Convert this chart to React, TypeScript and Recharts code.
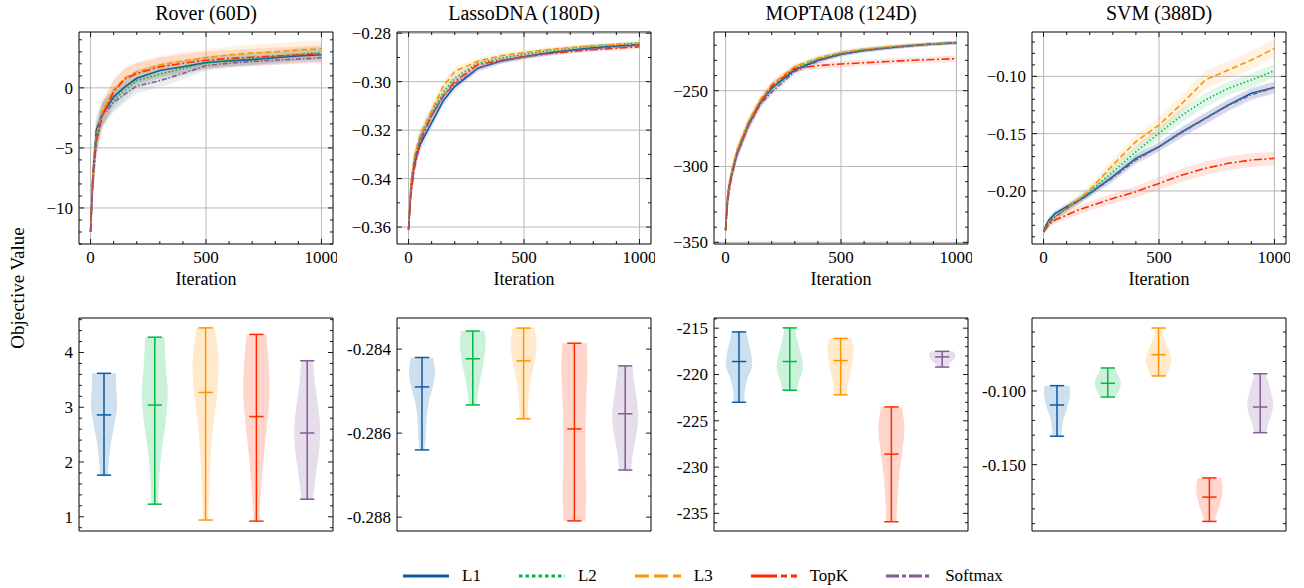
import React from "react";
import {
  ComposedChart,
  BarChart,
  Bar,
  Area,
  Line,
  XAxis,
  YAxis,
  ReferenceLine,
  ReferenceArea,
} from "recharts";

const FONT = '"Liberation Serif", "Times New Roman", serif';

const METHODS = ["L1", "L2", "L3", "TopK", "Softmax"];
const COLORS = ["#0C5DA5", "#00B945", "#FF9500", "#FF2C00", "#845B97"];
const DASHES = [undefined, "1.5 2.2", "6 3", "8 2.5 2 2.5", "5 2 1.5 2"];
const LEGEND_DASHES = [undefined, "3.5 3", "14 5", "26 4 6 4", "13 3 4 3"];

// iteration grid for the convergence curves
const ITERS = [0, 10, 25, 50, 100, 150, 200, 300, 400, 500, 600, 700, 800, 900, 1000];
const ITER_TICKS = [0, 100, 200, 300, 400, 500, 600, 700, 800, 900, 1000];
const ITER_MAJORS = [0, 500, 1000];

// Rover (60D): mean best objective per method (L1, L2, L3, TopK, Softmax)
const ROVER_MEAN = [
  [-12, -7.2, -3.5, -2.2, -0.75, 0.1, 0.8, 1.45, 1.75, 2.1, 2.25, 2.35, 2.5, 2.65, 2.75],
  [-12, -7.6, -4.3, -2.2, -1.0, -0.2, 0.6, 1.15, 1.6, 2.1, 2.3, 2.45, 2.6, 2.8, 2.95],
  [-12, -7.0, -4.0, -2.0, -0.2, 0.85, 1.35, 1.9, 2.25, 2.5, 2.75, 2.9, 3.0, 3.15, 3.25],
  [-12, -7.5, -4.5, -2.4, -0.3, 0.75, 1.2, 1.75, 2.05, 2.3, 2.45, 2.55, 2.65, 2.75, 2.85],
  [-12, -8.0, -4.4, -2.3, -1.2, -0.5, 0.15, 0.6, 1.2, 1.85, 2.05, 2.2, 2.3, 2.4, 2.5],
];
const ROVER_SD = [
  [0.4, 1.4, 1.2, 1.0, 0.8, 0.7, 0.65, 0.6, 0.55, 0.5, 0.5, 0.45, 0.45, 0.45, 0.45],
  [0.4, 1.5, 1.3, 1.0, 0.9, 0.8, 0.7, 0.65, 0.6, 0.55, 0.5, 0.5, 0.5, 0.5, 0.5],
  [0.4, 1.5, 1.3, 1.1, 0.95, 0.85, 0.8, 0.75, 0.7, 0.7, 0.7, 0.7, 0.7, 0.7, 0.7],
  [0.4, 1.5, 1.3, 1.1, 0.95, 0.9, 0.85, 0.8, 0.75, 0.7, 0.7, 0.7, 0.7, 0.7, 0.7],
  [0.4, 1.4, 1.2, 1.0, 0.8, 0.7, 0.6, 0.55, 0.5, 0.45, 0.4, 0.4, 0.4, 0.4, 0.4],
];

// LassoDNA (180D)
const LASSO_MEAN = [
  [-0.361, -0.345, -0.334, -0.326, -0.317, -0.308, -0.302, -0.2945, -0.2915, -0.2897, -0.2882, -0.287, -0.286, -0.2853, -0.2847],
  [-0.361, -0.343, -0.332, -0.323, -0.313, -0.3045, -0.2985, -0.2925, -0.2902, -0.2887, -0.2873, -0.2862, -0.2852, -0.2846, -0.284],
  [-0.361, -0.342, -0.331, -0.322, -0.312, -0.302, -0.2958, -0.2915, -0.2893, -0.288, -0.2868, -0.2859, -0.2852, -0.2846, -0.2842],
  [-0.361, -0.347, -0.336, -0.325, -0.314, -0.306, -0.3, -0.293, -0.2912, -0.2897, -0.2885, -0.2876, -0.2868, -0.2862, -0.2856],
  [-0.361, -0.344, -0.333, -0.324, -0.314, -0.306, -0.301, -0.2945, -0.2915, -0.2898, -0.2884, -0.2873, -0.2864, -0.2857, -0.285],
];
const LASSO_SD = [
  [0.003, 0.004, 0.003, 0.003, 0.0025, 0.002, 0.0018, 0.0013, 0.0011, 0.001, 0.0009, 0.0008, 0.0008, 0.0007, 0.0007],
  [0.003, 0.004, 0.003, 0.003, 0.0025, 0.002, 0.0018, 0.0013, 0.0011, 0.001, 0.0009, 0.0008, 0.0008, 0.0007, 0.0007],
  [0.003, 0.004, 0.0035, 0.003, 0.0028, 0.0022, 0.0018, 0.0013, 0.0011, 0.001, 0.0009, 0.0008, 0.0008, 0.0007, 0.0007],
  [0.003, 0.004, 0.0035, 0.003, 0.0025, 0.002, 0.0018, 0.0014, 0.0012, 0.0011, 0.001, 0.001, 0.0009, 0.0009, 0.0009],
  [0.003, 0.004, 0.003, 0.003, 0.0025, 0.002, 0.0018, 0.0013, 0.0011, 0.001, 0.0009, 0.0008, 0.0008, 0.0007, 0.0007],
];

// MOPTA08 (124D)
const MOPTA_MEAN = [
  [-342, -318, -306, -291, -272, -258, -248.5, -236.3, -230, -226, -223.5, -221.8, -220.4, -219.2, -218.5],
  [-342, -318, -306, -291, -272, -258, -248.5, -235, -229, -225.3, -223, -221.5, -220.2, -219.2, -218.5],
  [-342, -317, -305, -289, -270, -256, -246, -234, -228.6, -224.7, -222.6, -221.2, -220, -219, -218.4],
  [-342, -322, -307, -291, -272, -258, -247, -235.3, -233.5, -232.4, -231.6, -230.8, -230, -229.4, -228.9],
  [-342, -318, -306, -292, -273, -259, -251, -237.4, -230.5, -226, -223.5, -221.8, -220.4, -219.2, -218.3],
];
const MOPTA_SD = [
  [4, 6, 5, 4, 3.5, 3, 2.5, 2, 1.8, 1.6, 1.5, 1.4, 1.3, 1.2, 1.2],
  [4, 6, 5, 4, 3.5, 3, 2.5, 2, 1.8, 1.6, 1.5, 1.4, 1.3, 1.2, 1.2],
  [4, 6, 5, 4, 3.5, 3, 2.5, 2, 1.8, 1.6, 1.5, 1.4, 1.3, 1.2, 1.2],
  [4, 6, 5, 4, 3.5, 3, 2.8, 2.4, 2.2, 2.1, 2, 2, 2, 2, 2],
  [4, 6, 5, 4, 3.5, 3, 2.5, 2, 1.8, 1.6, 1.5, 1.4, 1.3, 1.2, 1.2],
];

// SVM (388D)
const SVM_MEAN = [
  [-0.2356, -0.23, -0.225, -0.2196, -0.2138, -0.2085, -0.2021, -0.1876, -0.1716, -0.1614, -0.1483, -0.1367, -0.125, -0.1148, -0.1096],
  [-0.2356, -0.232, -0.227, -0.2225, -0.2153, -0.2085, -0.2006, -0.1832, -0.1658, -0.1497, -0.1338, -0.1207, -0.1105, -0.1032, -0.0951],
  [-0.2356, -0.232, -0.227, -0.2225, -0.215, -0.2075, -0.1992, -0.1774, -0.157, -0.1425, -0.1236, -0.1032, -0.0945, -0.0858, -0.0756],
  [-0.2356, -0.233, -0.229, -0.2254, -0.221, -0.2167, -0.2132, -0.2065, -0.2007, -0.1934, -0.1861, -0.1803, -0.1759, -0.173, -0.1716],
  [-0.2356, -0.232, -0.2275, -0.2225, -0.2155, -0.209, -0.2025, -0.1885, -0.173, -0.1615, -0.149, -0.137, -0.1255, -0.116, -0.11],
];
const SVM_SD = [
  [0.002, 0.003, 0.003, 0.003, 0.003, 0.003, 0.003, 0.004, 0.004, 0.004, 0.0045, 0.005, 0.005, 0.005, 0.005],
  [0.002, 0.003, 0.003, 0.003, 0.003, 0.0035, 0.004, 0.0045, 0.005, 0.0055, 0.006, 0.006, 0.006, 0.006, 0.006],
  [0.002, 0.003, 0.003, 0.003, 0.0035, 0.004, 0.0045, 0.005, 0.006, 0.007, 0.0075, 0.008, 0.008, 0.008, 0.008],
  [0.002, 0.003, 0.003, 0.003, 0.0035, 0.004, 0.004, 0.0045, 0.005, 0.0055, 0.006, 0.006, 0.006, 0.006, 0.006],
  [0.002, 0.003, 0.003, 0.003, 0.003, 0.003, 0.003, 0.004, 0.004, 0.004, 0.0045, 0.005, 0.005, 0.005, 0.005],
];

// final-value distributions: min, max, median and a density outline
// (relative half-width from min up to max) per method
const ROVER_MIN = [1.76, 1.23, 0.94, 0.92, 1.32];
const ROVER_MAX = [3.62, 4.28, 4.45, 4.33, 3.85];
const ROVER_MED = [2.86, 3.04, 3.27, 2.83, 2.53];
const ROVER_SHAPE = [
  [0.3, 0.4, 0.55, 0.8, 1.0, 0.95, 0.9],
  [0.25, 0.35, 0.55, 0.85, 1.0, 0.85, 0.75],
  [0.2, 0.3, 0.4, 0.6, 0.9, 1.0, 0.7],
  [0.2, 0.35, 0.55, 0.8, 1.0, 0.95, 0.75],
  [0.45, 0.65, 0.9, 1.0, 0.85, 0.6, 0.45],
];

const LASSO_MIN = [-0.2864, -0.28533, -0.28566, -0.28809, -0.28688];
const LASSO_MAX = [-0.2842, -0.28357, -0.2835, -0.28386, -0.2844];
const LASSO_MED = [-0.2849, -0.28423, -0.28428, -0.2859, -0.28554];
const LASSO_SHAPE = [
  [0.2, 0.3, 0.35, 0.5, 0.8, 1.0, 0.85],
  [0.3, 0.4, 0.55, 0.75, 0.9, 1.0, 0.9],
  [0.3, 0.35, 0.45, 0.65, 0.9, 1.0, 0.85],
  [0.85, 0.9, 0.85, 0.85, 0.9, 1.0, 0.95],
  [0.45, 0.6, 0.85, 1.0, 0.9, 0.7, 0.55],
];

const MOPTA_MIN = [-223.0, -221.7, -222.2, -235.9, -219.2];
const MOPTA_MAX = [-215.4, -214.97, -216.1, -223.5, -217.5];
const MOPTA_MED = [-218.6, -218.6, -218.5, -228.6, -218.1];
const MOPTA_SHAPE = [
  [0.4, 0.45, 0.65, 1.0, 0.95, 0.75, 0.55],
  [0.55, 0.75, 1.0, 0.95, 0.75, 0.55, 0.4],
  [0.45, 0.55, 0.7, 0.85, 0.95, 1.0, 0.85],
  [0.4, 0.45, 0.55, 0.7, 0.9, 1.0, 0.8],
  [0.4, 0.5, 0.7, 0.9, 1.0, 1.0, 0.85],
];

const SVM_MIN = [-0.1307, -0.1041, -0.0898, -0.1885, -0.1283];
const SVM_MAX = [-0.0964, -0.0844, -0.0573, -0.159, -0.0883];
const SVM_MED = [-0.1095, -0.0948, -0.0754, -0.172, -0.1109];
const SVM_SHAPE = [
  [0.35, 0.4, 0.5, 0.7, 0.9, 1.0, 0.95],
  [0.55, 0.8, 0.95, 1.0, 0.9, 0.7, 0.5],
  [0.6, 0.85, 1.0, 0.85, 0.6, 0.35, 0.15],
  [0.4, 0.55, 0.75, 0.9, 1.0, 1.0, 0.9],
  [0.45, 0.65, 0.9, 1.0, 0.85, 0.65, 0.4],
];

// axis ticks
const ROVER_TOP_MAJORS = [-10, -5, 0];
const LASSO_TOP_MAJORS = [-0.36, -0.34, -0.32, -0.3, -0.28];
const MOPTA_TOP_MAJORS = [-350, -300, -250];
const SVM_TOP_MAJORS = [-0.2, -0.15, -0.1];
const ROVER_BOT_MAJORS = [1, 2, 3, 4];
const LASSO_BOT_MAJORS = [-0.288, -0.286, -0.284];
const MOPTA_BOT_MAJORS = [-235, -230, -225, -220, -215];
const SVM_BOT_MAJORS = [-0.15, -0.1];

// geometry
const PLOT_LEFT = [79, 397, 714, 1032];
const PW = 254;
const YW = 70;
const MT = 14;
const MR = 4;
const TOP_Y = 32;
const TOP_PH = 212;
const XH = 30;
const BOT_Y = 318;
const BOT_PH = 213;

const minusSign = (s: string) => s.replace("-", "\u2212");

function stepTicks(lo: number, hi: number, step: number) {
  const out: number[] = [];
  for (let k = Math.ceil(lo / step - 1e-6); k <= Math.floor(hi / step + 1e-6); k++) {
    out.push(parseFloat((k * step).toFixed(6)));
  }
  return out;
}

function isMajor(v: number, majors: number[]) {
  return majors.some((m) => Math.abs(m - v) < 1e-7);
}

function makeYTick(majors: number[], fmt: (v: number) => string) {
  const left = YW;
  const right = YW + PW;
  return (props: any) => {
    const { y, payload } = props;
    const major = isMajor(payload.value, majors);
    const len = major ? 5 : 3;
    return (
      <g>
        <line x1={left} x2={left + len} y1={y} y2={y} stroke="#000" strokeWidth={0.9} />
        <line x1={right - len} x2={right} y1={y} y2={y} stroke="#000" strokeWidth={0.9} />
        {major && (
          <text x={left - 6} y={y} dy="0.35em" textAnchor="end" fontSize={17} fill="#000" fontFamily={FONT}>
            {fmt(payload.value)}
          </text>
        )}
      </g>
    );
  };
}

function makeXTick(plotTop: number, plotBottom: number) {
  return (props: any) => {
    const { x, payload } = props;
    const major = isMajor(payload.value, ITER_MAJORS);
    const len = major ? 5 : 3;
    return (
      <g>
        <line x1={x} x2={x} y1={plotBottom} y2={plotBottom - len} stroke="#000" strokeWidth={0.9} />
        <line x1={x} x2={x} y1={plotTop} y2={plotTop + len} stroke="#000" strokeWidth={0.9} />
        {major && (
          <text x={x} y={plotBottom + 13} dy="0.35em" textAnchor="middle" fontSize={17} fill="#000" fontFamily={FONT}>
            {payload.value}
          </text>
        )}
      </g>
    );
  };
}

interface TopProps {
  col: number;
  title: string;
  mean: number[][];
  sd: number[][];
  yDomain: [number, number];
  majors: number[];
  step: number;
  fmt: (v: number) => string;
}

function TopPanel({ col, title, mean, sd, yDomain, majors, step, fmt }: TopProps) {
  const rows = ITERS.map((it, i) => {
    const row: any = { iter: it };
    METHODS.forEach((m, k) => {
      row[m] = mean[k][i];
      row[m + "_band"] = [mean[k][i] - sd[k][i], mean[k][i] + sd[k][i]];
    });
    return row;
  });
  const width = YW + PW + MR;
  const height = MT + TOP_PH + XH;
  return (
    <>
      <div
        style={{
          position: "absolute",
          left: PLOT_LEFT[col],
          top: 0,
          width: PW,
          height: 26,
          lineHeight: "26px",
          textAlign: "center",
          fontSize: 20,
        }}
      >
        {title}
      </div>
      <div
        style={{
          position: "absolute",
          left: PLOT_LEFT[col],
          top: 268,
          width: PW,
          height: 22,
          lineHeight: "22px",
          textAlign: "center",
          fontSize: 18,
        }}
      >
        Iteration
      </div>
      <div style={{ position: "absolute", left: PLOT_LEFT[col] - YW, top: TOP_Y - MT }}>
        <ComposedChart width={width} height={height} data={rows} margin={{ top: MT, right: MR, left: 0, bottom: 0 }}>
          <XAxis
            dataKey="iter"
            type="number"
            domain={[-50, 1050]}
            allowDataOverflow
            ticks={ITER_TICKS}
            interval={0}
            axisLine={false}
            tickLine={false}
            height={XH}
            tick={makeXTick(MT, MT + TOP_PH)}
          />
          <YAxis
            type="number"
            domain={yDomain}
            allowDataOverflow
            ticks={stepTicks(yDomain[0], yDomain[1], step)}
            interval={0}
            axisLine={false}
            tickLine={false}
            width={YW}
            tick={makeYTick(majors, fmt)}
          />
          {majors.map((v) => (
            <ReferenceLine key={"gy" + v} y={v} stroke="#b0b0b0" strokeWidth={0.9} />
          ))}
          {ITER_MAJORS.map((v) => (
            <ReferenceLine key={"gx" + v} x={v} stroke="#b0b0b0" strokeWidth={0.9} />
          ))}
          {METHODS.map((m, k) => (
            <Area
              key={m + "_band"}
              dataKey={m + "_band"}
              type="linear"
              stroke="none"
              fill={COLORS[k]}
              fillOpacity={0.12}
              isAnimationActive={false}
              activeDot={false}
            />
          ))}
          {METHODS.map((m, k) => (
            <Line
              key={m}
              dataKey={m}
              type="linear"
              stroke={COLORS[k]}
              strokeWidth={1.6}
              strokeDasharray={DASHES[k]}
              dot={false}
              activeDot={false}
              isAnimationActive={false}
            />
          ))}
          <ReferenceArea y1={yDomain[0]} y2={yDomain[1]} fill="none" stroke="#000" strokeWidth={1} />
        </ComposedChart>
      </div>
    </>
  );
}

// Catmull-Rom outline through the points, as cubic Bezier segments
function smoothThrough(pts: [number, number][]) {
  let d = "";
  for (let i = 0; i < pts.length - 1; i++) {
    const p0 = pts[Math.max(0, i - 1)];
    const p1 = pts[i];
    const p2 = pts[i + 1];
    const p3 = pts[Math.min(pts.length - 1, i + 2)];
    const c1x = p1[0] + (p2[0] - p0[0]) / 6;
    const c1y = p1[1] + (p2[1] - p0[1]) / 6;
    const c2x = p2[0] - (p3[0] - p1[0]) / 6;
    const c2y = p2[1] - (p3[1] - p1[1]) / 6;
    d += ` C${c1x},${c1y} ${c2x},${c2y} ${p2[0]},${p2[1]}`;
  }
  return d;
}

function ViolinShape(props: any) {
  const { x, y, width, height, payload } = props;
  const top = Math.min(y, y + height);
  const h = Math.abs(height);
  const cx = x + width / 2;
  const half = width / 2;
  const { lo, hi, median, shape, color } = payload;
  const n = shape.length;
  const right: [number, number][] = shape.map((w: number, i: number) => [cx + half * w, top + h - (h * i) / (n - 1)]);
  const left: [number, number][] = shape
    .map((w: number, i: number) => [cx - half * w, top + h - (h * i) / (n - 1)] as [number, number])
    .reverse();
  const d =
    `M${right[0][0]},${right[0][1]}` +
    smoothThrough(right) +
    ` L${left[0][0]},${left[0][1]}` +
    smoothThrough(left) +
    " Z";
  const my = top + (h * (hi - median)) / (hi - lo);
  const cap = half * 0.55;
  return (
    <g>
      <path d={d} fill={color} fillOpacity={0.2} stroke="none" />
      <line x1={cx} x2={cx} y1={top} y2={top + h} stroke={color} strokeWidth={1.5} />
      <line x1={cx - cap} x2={cx + cap} y1={top} y2={top} stroke={color} strokeWidth={1.5} />
      <line x1={cx - cap} x2={cx + cap} y1={top + h} y2={top + h} stroke={color} strokeWidth={1.5} />
      <line x1={cx - cap} x2={cx + cap} y1={my} y2={my} stroke={color} strokeWidth={1.5} />
    </g>
  );
}

interface BotProps {
  col: number;
  lo: number[];
  hi: number[];
  med: number[];
  shape: number[][];
  yDomain: [number, number];
  majors: number[];
  step: number;
  fmt: (v: number) => string;
}

function ViolinPanel({ col, lo, hi, med, shape, yDomain, majors, step, fmt }: BotProps) {
  const rows = METHODS.map((m, k) => ({
    name: m,
    range: [lo[k], hi[k]],
    lo: lo[k],
    hi: hi[k],
    median: med[k],
    shape: shape[k],
    color: COLORS[k],
  }));
  const width = YW + PW + MR;
  const height = MT + BOT_PH + 12;
  return (
    <div style={{ position: "absolute", left: PLOT_LEFT[col] - YW, top: BOT_Y - MT }}>
      <BarChart width={width} height={height} data={rows} margin={{ top: MT, right: MR, left: 0, bottom: 12 }}>
        <XAxis dataKey="name" type="category" hide />
        <YAxis
          type="number"
          domain={yDomain}
          allowDataOverflow
          ticks={stepTicks(yDomain[0], yDomain[1], step)}
          interval={0}
          axisLine={false}
          tickLine={false}
          width={YW}
          tick={makeYTick(majors, fmt)}
        />
        <Bar dataKey="range" barSize={26} isAnimationActive={false} shape={(p: any) => <ViolinShape {...p} />} />
        <ReferenceArea y1={yDomain[0]} y2={yDomain[1]} fill="none" stroke="#000" strokeWidth={1} />
      </BarChart>
    </div>
  );
}

function LegendRow() {
  return (
    <div
      style={{
        position: "absolute",
        left: 403,
        top: 564,
        height: 24,
        display: "flex",
        alignItems: "center",
        gap: 38,
        fontSize: 17,
      }}
    >
      {METHODS.map((m, k) => (
        <div key={m} style={{ display: "flex", alignItems: "center" }}>
          <svg width={46} height={10}>
            <line x1={0} x2={46} y1={5} y2={5} stroke={COLORS[k]} strokeWidth={3} strokeDasharray={LEGEND_DASHES[k]} />
          </svg>
          <span style={{ marginLeft: 13 }}>{m}</span>
        </div>
      ))}
    </div>
  );
}

export default function App() {
  return (
    <div
      style={{
        position: "absolute",
        left: 0,
        top: 0,
        width: 1304,
        height: 588,
        background: "#fff",
        fontFamily: FONT,
        color: "#000",
        overflow: "hidden",
      }}
    >
      <TopPanel col={0} title="Rover (60D)" mean={ROVER_MEAN} sd={ROVER_SD} yDomain={[-13.0, 4.65]} majors={ROVER_TOP_MAJORS} step={1} fmt={(v) => minusSign(v.toFixed(0))} />
      <TopPanel col={1} title="LassoDNA (180D)" mean={LASSO_MEAN} sd={LASSO_SD} yDomain={[-0.367, -0.2795]} majors={LASSO_TOP_MAJORS} step={0.01} fmt={(v) => minusSign(v.toFixed(2))} />
      <TopPanel col={2} title="MOPTA08 (124D)" mean={MOPTA_MEAN} sd={MOPTA_SD} yDomain={[-351.1, -211.3]} majors={MOPTA_TOP_MAJORS} step={10} fmt={(v) => minusSign(v.toFixed(0))} />
      <TopPanel col={3} title="SVM (388D)" mean={SVM_MEAN} sd={SVM_SD} yDomain={[-0.2463, -0.0613]} majors={SVM_TOP_MAJORS} step={0.01} fmt={(v) => minusSign(v.toFixed(2))} />

      <ViolinPanel col={0} lo={ROVER_MIN} hi={ROVER_MAX} med={ROVER_MED} shape={ROVER_SHAPE} yDomain={[0.74, 4.63]} majors={ROVER_BOT_MAJORS} step={0.2} fmt={(v) => v.toFixed(0)} />
      <ViolinPanel col={1} lo={LASSO_MIN} hi={LASSO_MAX} med={LASSO_MED} shape={LASSO_SHAPE} yDomain={[-0.28833, -0.28326]} majors={LASSO_BOT_MAJORS} step={0.0005} fmt={(v) => v.toFixed(3)} />
      <ViolinPanel col={2} lo={MOPTA_MIN} hi={MOPTA_MAX} med={MOPTA_MED} shape={MOPTA_SHAPE} yDomain={[-236.9, -213.9]} majors={MOPTA_BOT_MAJORS} step={1} fmt={(v) => v.toFixed(0)} />
      <ViolinPanel col={3} lo={SVM_MIN} hi={SVM_MAX} med={SVM_MED} shape={SVM_SHAPE} yDomain={[-0.195, -0.0505]} majors={SVM_BOT_MAJORS} step={0.01} fmt={(v) => v.toFixed(3)} />

      <div
        style={{
          position: "absolute",
          left: 18,
          top: 288,
          transform: "translate(-50%, -50%) rotate(-90deg)",
          whiteSpace: "nowrap",
          fontSize: 19,
        }}
      >
        Objective Value
      </div>
      <LegendRow />
    </div>
  );
}
